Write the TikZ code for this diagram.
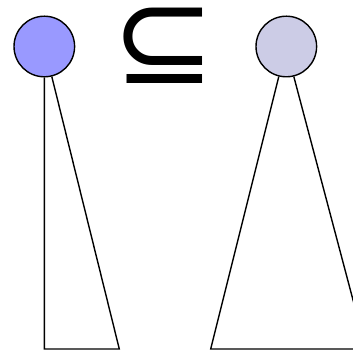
\documentclass[tikz,border=0pt]{standalone}
\usepackage{fontspec}
\newfontfamily\symfont{DejaVu Sans}
\definecolor{rootblue}{RGB}{153,153,255}
\definecolor{rootgray}{RGB}{204,204,230}
\tikzset{
  root/.style={
    circle,
    draw=black,
    line width=1.4pt,
    minimum size=60.6pt,
    inner sep=0pt,
  },
  subtree/.style={
    draw=black,
    line width=1.4pt,
    line join=miter,
  },
}

\begin{document}
\begin{tikzpicture}[x=1pt,y=1pt]
  \clip (0,0) rectangle (353,352);
  \useasboundingbox (0,0) rectangle (353,352);

  \node[root, fill=rootblue] (lroot) at (44.3,305.5) {};
  \node[root, fill=rootgray] (rroot) at (286.3,305.5) {};
  \node[inner sep=0pt, font=\symfont\fontsize{123}{123}\selectfont] (subset) at (163.7,306.5) {⊆};

  % left tree, narrow
  \coordinate (lbl) at (44.3,3);
  \coordinate (lbr) at (119.3,3);
  \draw[subtree] (lroot.-90) -- (lbl) -- (lbr) -- (lroot.-76);

  % right tree, wide
  \coordinate (rbl) at (210.7,3);
  \coordinate (rbr) at (366,3);
  \draw[subtree] (rroot.-104) -- (rbl) -- (rbr) -- (rroot.-76);
\end{tikzpicture}
\end{document}
